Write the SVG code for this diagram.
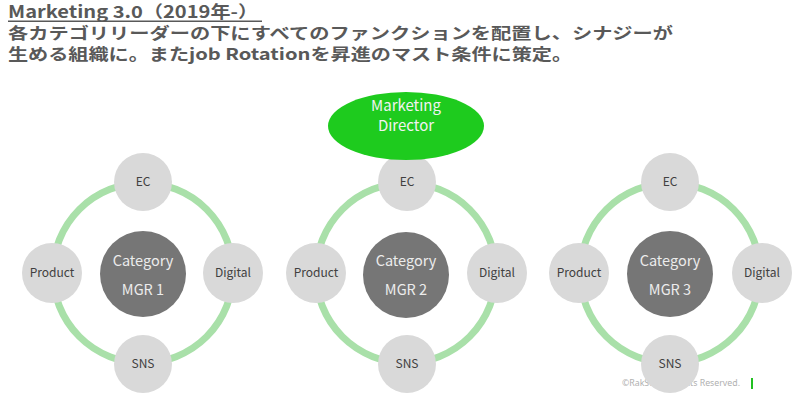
<svg xmlns="http://www.w3.org/2000/svg" width="800" height="402" viewBox="0 0 800 402">
<style>
.t{font-family:"Noto Sans CJK JP","Noto Sans",sans-serif;fill:#595959;font-weight:bold}
.ring{fill:none;stroke:#a9e0a9;stroke-width:7}
.sat{fill:#d9d9d9}
.satt{font-family:"Noto Sans CJK JP","Noto Sans",sans-serif;font-size:12px;fill:#404040;text-anchor:middle}
.ctr{fill:#767676}
.ctrt{font-family:"Noto Sans CJK JP","Noto Sans",sans-serif;font-size:14.5px;fill:#ececec;text-anchor:middle}
</style>
<rect width="800" height="402" fill="#ffffff"/>
<g id="title">
<text class="t" x="8" y="17.5" font-size="16.5" textLength="250" lengthAdjust="spacingAndGlyphs">Marketing 3.0（2019年-）</text>
<rect x="8" y="20.5" width="254" height="1.5" fill="#595959"/>
<text class="t" x="8" y="39" font-size="16" textLength="665" lengthAdjust="spacingAndGlyphs">各カテゴリリーダーの下にすべてのファンクションを配置し、シナジーが</text>
<text class="t" x="8" y="59.5" font-size="16" textLength="564" lengthAdjust="spacingAndGlyphs">生める組織に。またjob Rotationを昇進のマスト条件に策定。</text>
</g>
<g id="connectors">
<circle class="ring" cx="143" cy="273" r="90"/>
<circle class="ring" cx="406" cy="273" r="90"/>
<circle class="ring" cx="670" cy="273" r="90"/>
</g>
<g id="footer">
<text x="622" y="386" font-family="'Noto Sans','Liberation Sans',sans-serif" font-size="8" fill="#b0b0b0" textLength="118" lengthAdjust="spacingAndGlyphs">©RakSul All Rights Reserved.</text>
<rect x="751" y="378" width="2" height="11" fill="#22c022"/>
</g>
<g id="mgr1">
<g id="mgr1-center"><circle class="ctr" cx="143" cy="274" r="43"/><text class="ctrt" x="143" y="266">Category</text><text class="ctrt" x="143" y="295">MGR 1</text></g>
<g id="mgr1-ec"><circle class="sat" cx="143" cy="182" r="29"/><text class="satt" x="143" y="186">EC</text></g>
<g id="mgr1-product"><circle class="sat" cx="52" cy="273" r="30"/><text class="satt" x="52" y="277">Product</text></g>
<g id="mgr1-digital"><circle class="sat" cx="233" cy="273" r="30"/><text class="satt" x="233" y="277">Digital</text></g>
<g id="mgr1-sns"><circle class="sat" cx="143" cy="364" r="29"/><text class="satt" x="143" y="368">SNS</text></g>
</g>
<g id="mgr2">
<g id="mgr2-center"><circle class="ctr" cx="406" cy="275" r="43"/><text class="ctrt" x="406" y="266">Category</text><text class="ctrt" x="406" y="295">MGR 2</text></g>
<g id="mgr2-ec"><circle class="sat" cx="407" cy="182" r="29"/><text class="satt" x="407" y="186">EC</text></g>
<g id="mgr2-product"><circle class="sat" cx="316" cy="273" r="30"/><text class="satt" x="316" y="277">Product</text></g>
<g id="mgr2-digital"><circle class="sat" cx="497" cy="273" r="30"/><text class="satt" x="497" y="277">Digital</text></g>
<g id="mgr2-sns"><circle class="sat" cx="407" cy="364" r="29"/><text class="satt" x="407" y="368">SNS</text></g>
</g>
<g id="mgr3">
<g id="mgr3-center"><circle class="ctr" cx="670" cy="274" r="43"/><text class="ctrt" x="670" y="266">Category</text><text class="ctrt" x="670" y="295">MGR 3</text></g>
<g id="mgr3-ec"><circle class="sat" cx="670" cy="182" r="29"/><text class="satt" x="670" y="186">EC</text></g>
<g id="mgr3-product"><circle class="sat" cx="579" cy="273" r="30"/><text class="satt" x="579" y="277">Product</text></g>
<g id="mgr3-digital"><circle class="sat" cx="762" cy="273" r="30"/><text class="satt" x="762" y="277">Digital</text></g>
<g id="mgr3-sns"><circle class="sat" cx="670" cy="364" r="29"/><text class="satt" x="670" y="368">SNS</text></g>
</g>
<g id="director">
<ellipse cx="406" cy="126" rx="78" ry="34" fill="#1ecb1e"/>
<text x="406" y="111" font-family="'Noto Sans CJK JP','Noto Sans',sans-serif" font-size="15" fill="#f2f2f2" text-anchor="middle">Marketing</text>
<text x="406" y="131" font-family="'Noto Sans CJK JP','Noto Sans',sans-serif" font-size="15" fill="#f2f2f2" text-anchor="middle">Director</text>
</g>
</svg>
